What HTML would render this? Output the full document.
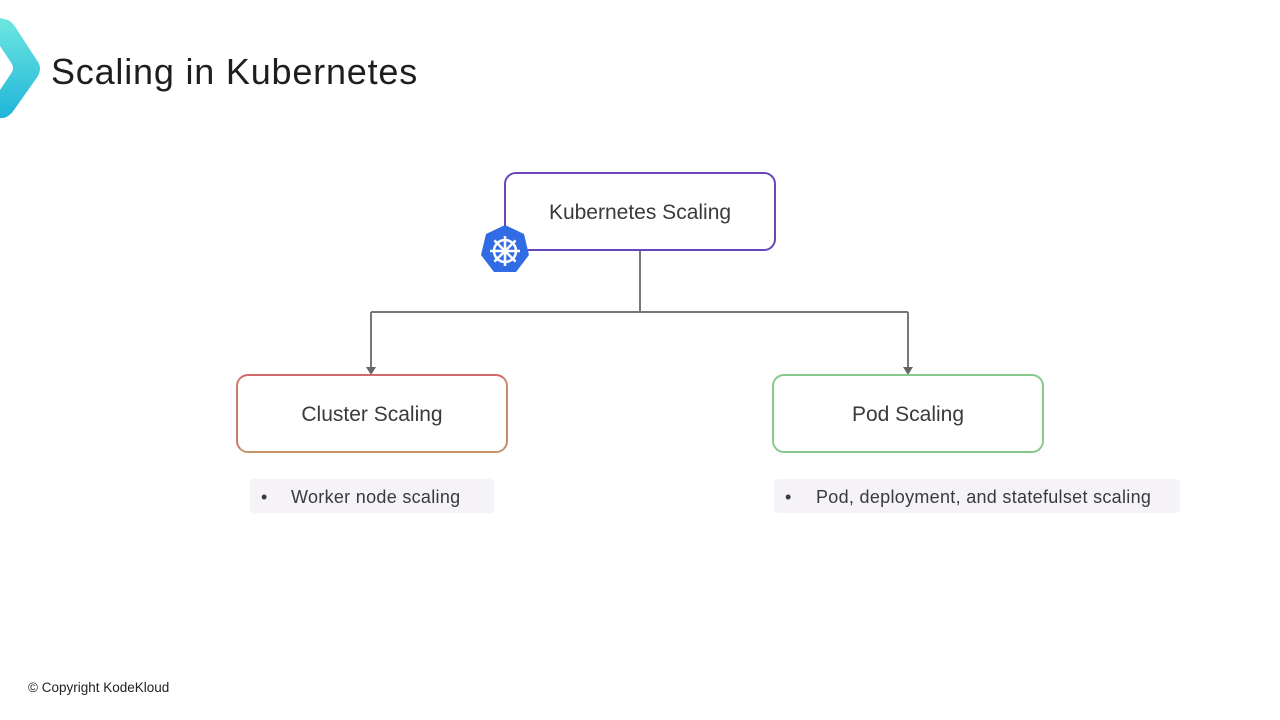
<!DOCTYPE html>
<html><head><meta charset="utf-8"><style>
body{margin:0;width:1280px;height:720px;background:#fff;position:relative;overflow:hidden;font-family:"Liberation Sans",sans-serif;color:#333}
.t{position:absolute;left:51px;top:51px;font-size:36px;color:#1e1e1e;letter-spacing:0.8px}
.box{position:absolute;box-sizing:border-box;border-radius:12px;background:#fff;display:flex;align-items:center;justify-content:center;font-size:21px;color:#3a3a3a;padding-top:3px}
.pill{position:absolute;background:#f5f3f7;border-radius:4px;font-size:18px;letter-spacing:0.3px;color:#3a3a3a;height:34px;line-height:36px;box-sizing:border-box}
.pill b{font-weight:normal;position:absolute;left:11px}
.cp{position:absolute;left:28px;top:680px;font-size:13.5px;color:#222}
</style></head><body>
<svg width="1280" height="720" style="position:absolute;left:0;top:0">
<defs><linearGradient id="g" x1="0" y1="0" x2="0" y2="1"><stop offset="0" stop-color="#6ee7e0"/><stop offset="1" stop-color="#1fb5d9"/></linearGradient></defs>
<path d="M0 18 L8 20 Q12 22 16 28 L38 62 Q42 68 38 76 L14 110 Q10 116 4 118 L0 118 L0 90 L12 72 Q14 68 12 64 L0 46 Z" fill="url(#g)"/>
<g stroke="#777" stroke-width="2" fill="none">
<path d="M640 250 V312 M371 312 H908 M371 312 V368 M908 312 V368"/>
</g>
<path d="M366 367 L376 367 L371 375 Z M903 367 L913 367 L908 375 Z" fill="#666"/>
</svg>
<div class="t">Scaling in Kubernetes</div>
<div class="box" style="left:504px;top:172px;width:272px;height:79px;border:2px solid #6a44b8">Kubernetes Scaling</div>
<svg width="52" height="52" style="position:absolute;left:479px;top:224px" viewBox="0 0 52 52">
<polygon points="26,1 45,10 50,31 37,48 15,48 2,31 7,10" fill="#326ce5"/>
<g stroke="#fff" stroke-width="2.5" fill="none"><circle cx="26" cy="27" r="11"/>
<path d="M26 12V42M11 27H41M15.4 16.4L36.6 37.6M36.6 16.4L15.4 37.6"/></g>
<circle cx="26" cy="27" r="3" fill="#fff"/>
</svg>
<div class="box" style="left:236px;top:374px;width:272px;height:79px;border:2px solid;border-color:#d06a6a #c98a6a #c7946a #cc7a6a">Cluster Scaling</div>
<div class="box" style="left:772px;top:374px;width:272px;height:79px;border:2px solid #86c98a">Pod Scaling</div>
<div class="pill" style="left:250px;top:479px;width:244px"><b>•</b><span style="position:absolute;left:41px">Worker node scaling</span></div>
<div class="pill" style="left:774px;top:479px;width:406px"><b>•</b><span style="position:absolute;left:42px">Pod, deployment, and statefulset scaling</span></div>
<div class="cp">© Copyright KodeKloud</div>
</body></html>
